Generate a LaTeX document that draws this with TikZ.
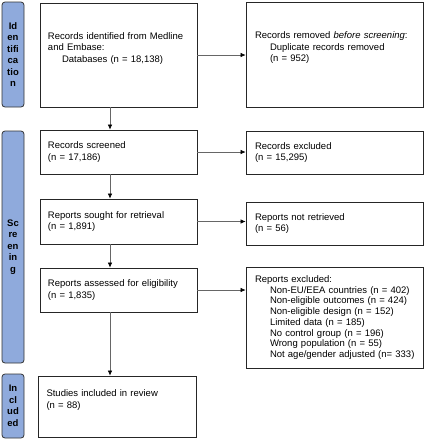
\documentclass[tikz,border=0pt]{standalone}
\usepackage{fontspec}
\setmainfont{Liberation Sans}
\usetikzlibrary{shapes.geometric, arrows.meta}
\definecolor{phasefill}{HTML}{8FAADC}
\tikzstyle{stage} = [rectangle, rounded corners=3pt, draw=black!80, line width=0.8pt, fill=phasefill, minimum width=22pt, text width=20pt, inner sep=0pt, align=center, font=\fontsize{9.5}{11.5}\selectfont\bfseries]
\tikzstyle{record} = [rectangle, draw=black!85, line width=0.8pt, minimum width=157pt, text width=141pt, inner xsep=8pt, align=left, font=\fontsize{9.5}{11.5}\selectfont]
\tikzstyle{exclusion} = [rectangle, draw=black!85, line width=0.8pt, minimum width=177pt, text width=159pt, inner xsep=9pt, align=left, font=\fontsize{9.5}{11.5}\selectfont]
\tikzstyle{arrow} = [line width=0.6pt, draw=black!60, -{Latex[black, length=5pt, width=4.5pt]}]

\begin{document}
\begin{tikzpicture}[x=1pt, y=-1pt]
    \useasboundingbox (0,0) rectangle (426,440);

    \node [stage, minimum height=105pt] at (13,54.5) (identification) {Id\\en\\tifi\\ca\\tio\\n};
    \node [stage, minimum height=232pt] at (13,247) (screening) {Sc\\re\\en\\in\\g};
    \node [stage, minimum height=64pt] at (13,406) (inclusion) {In\\cl\\ud\\ed};

    \node [record, minimum height=104pt] at (118.5,55) (ident) {Records identified from Medline and Embase:\\\hspace*{14pt}Databases (n = 18,138)\\\strut};
    \node [record, minimum height=44pt] at (118.5,152) (screened) {Records screened\\(n = 17,186)};
    \node [record, minimum height=45pt] at (118.5,221.5) (sought) {Reports sought for retrieval\\(n = 1,891)};
    \node [record, minimum height=44pt] at (118.5,290) (assessed) {Reports assessed for eligibility\\(n = 1,835)};
    \node [record, minimum height=61pt, minimum width=158pt] at (117,406.5) (included) {Studies included in review\\(n = 88)\\\strut};

    \node [exclusion, minimum height=105pt] at (334.5,54.5) (removed) {Records removed \textit{before screening}:\\\hspace*{15pt}Duplicate records removed\\\hspace*{15pt}(n = 952)\\\strut};
    \node [exclusion, minimum height=43pt] at (334.5,152.5) (excluded) {Records excluded\\(n = 15,295)};
    \node [exclusion, minimum height=43pt] at (334.5,223.5) (notretrieved) {Reports not retrieved\\(n = 56)};
    \node [exclusion, minimum height=101pt, font=\fontsize{9.5}{10.7}\selectfont] at (334.5,317.5) (reasons) {Reports excluded:\\
        \hspace*{15pt}Non-EU/EEA countries (n = 402)\\
        \hspace*{15pt}Non-eligible outcomes (n = 424)\\
        \hspace*{15pt}Non-eligible design (n = 152)\\
        \hspace*{15pt}Limited data (n = 185)\\
        \hspace*{15pt}No control group (n = 196)\\
        \hspace*{15pt}Wrong population (n = 55)\\
        \hspace*{15pt}\mbox{Not age/gender adjusted (n= 333)}};

    \coordinate (spine) at (110,0);

    \draw [arrow] (ident.south -| spine) -- (screened.north -| spine);
    \draw [arrow] (screened.south -| spine) -- (sought.north -| spine);
    \draw [arrow] (sought.south -| spine) -- (assessed.north -| spine);
    \draw [arrow] (assessed.south -| spine) -- (included.north -| spine);
    \draw [arrow] (ident.east) -- (ident.east -| removed.west);
    \draw [arrow] (screened.east) -- (screened.east -| excluded.west);
    \draw [arrow] (sought.east) -- (sought.east -| notretrieved.west);
    \draw [arrow] (assessed.east) -- (assessed.east -| reasons.west);
\end{tikzpicture}
\end{document}
